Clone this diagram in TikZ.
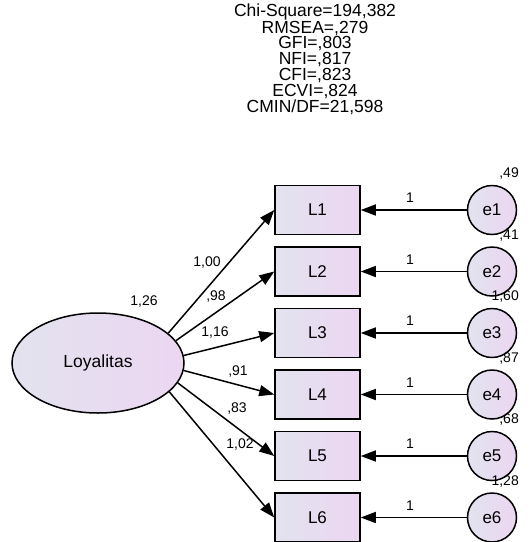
\documentclass[tikz,border=0pt]{standalone}
\usepackage{fontspec}
\setmainfont{Liberation Sans}
\usetikzlibrary{arrows.meta, shapes.geometric}
\definecolor{shadeL}{HTML}{E2E3EE}
\definecolor{shadeR}{HTML}{ECD6F2}

\begin{document}
\begin{tikzpicture}[x=1pt, y=-1pt,
  obs/.style={draw, line width=1.5pt, minimum width=85pt, minimum height=49pt,
    left color=shadeL, right color=shadeR, font=\fontsize{17}{17}\selectfont},
  err/.style={circle, draw, line width=1.5pt, minimum size=49pt, inner sep=0pt,
    left color=shadeL, right color=shadeR, font=\fontsize{17}{17}\selectfont},
  latent/.style={ellipse, draw, line width=1.5pt, minimum width=172pt, minimum height=100pt,
    left color=shadeL, right color=shadeR, font=\fontsize{17.5}{17.5}\selectfont},
  arr/.style={-{Triangle[length=15pt,width=11pt]}, line width=1.5pt},
  num/.style={inner sep=0pt, font=\fontsize{14}{14}\selectfont}]
  \useasboundingbox (0,0) rectangle (530,542);
  \node[align=center, font=\fontsize{17.5}{15.8}\selectfont] (fit) at (315,59)
    {Chi-Square=194,382\\RMSEA=,279\\GFI=,803\\NFI=,817\\CFI=,823\\ECVI=,824\\CMIN/DF=21,598};
  \node[latent] (lat) at (98,363) {Loyalitas};
  \node[num] (latvar) at (144,302) {1,26};
  \foreach \i/\y/\ev/\ang/\lam/\lx/\ly in {
      1/210/{,49}/23/{1,00}/207/263,
      2/271.5/{,41}/16/{,98}/216/297,
      3/333/{1,60}/5/{1,16}/215/333,
      4/394.5/{,87}/355.5/{,91}/238/372,
      5/456/{,68}/346/{,83}/237/409,
      6/517.5/{1,28}/338/{1,02}/240/445} {
    \node[obs] (L\i) at (317.5,\y) {L\i};
    \node[err] (e\i) at (492,\y) {e\i};
    \node[num, anchor=east] (ev\i) at (519,\y-36) {\ev};
    \draw[arr] (e\i) -- (L\i);
    \node[num] (one\i) at (410,\y-12) {1};
    \draw[arr] (lat.\ang) -- (L\i.west);
    \node[num] (lam\i) at (\lx,\ly) {\lam};
  }
\end{tikzpicture}
\end{document}
